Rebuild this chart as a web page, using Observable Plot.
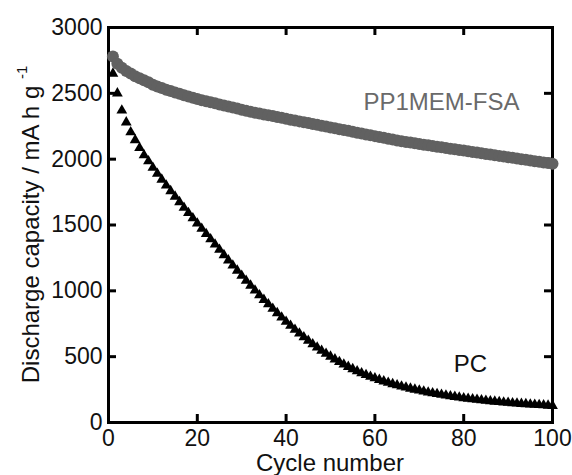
<!DOCTYPE html>
<html><head><meta charset="utf-8">
<script src="https://cdn.jsdelivr.net/npm/d3@7"></script>
<script src="https://cdn.jsdelivr.net/npm/@observablehq/plot@0.6"></script>
<style>body{margin:0;background:#fff} svg{display:block}</style>
</head><body><div id="chart"></div>
<script>
const cycles = [1,2,3,4,5,6,7,8,9,10,11,12,13,14,15,16,17,18,19,20,21,22,23,24,25,26,27,28,29,30,31,32,33,34,35,36,37,38,39,40,41,42,43,44,45,46,47,48,49,50,51,52,53,54,55,56,57,58,59,60,61,62,63,64,65,66,67,68,69,70,71,72,73,74,75,76,77,78,79,80,81,82,83,84,85,86,87,88,89,90,91,92,93,94,95,96,97,98,99,100];
const pp1memFsa = [2780,2725,2695,2670,2650,2630,2614,2600,2585,2565,2552,2540,2528,2517,2506,2496,2486,2476,2466,2457,2448,2440,2432,2424,2416,2408,2400,2392,2384,2376,2368,2360,2353,2347,2340,2334,2327,2320,2314,2307,2300,2294,2287,2281,2274,2267,2261,2254,2248,2241,2234,2228,2221,2215,2208,2201,2195,2188,2182,2175,2168,2162,2155,2149,2142,2136,2131,2126,2121,2116,2110,2105,2100,2095,2090,2085,2080,2075,2070,2065,2060,2055,2050,2045,2040,2035,2030,2025,2020,2015,2010,2005,2000,1995,1990,1985,1980,1975,1970,1966];
const pc = [2650,2500,2370,2280,2205,2145,2085,2030,1985,1935,1890,1845,1800,1758,1716,1674,1632,1592,1552,1512,1472,1432,1392,1352,1312,1272,1232,1193,1154,1115,1077,1040,1003,967,932,898,864,831,798,766,735,705,676,648,621,595,570,546,523,501,480,460,441,423,406,390,375,361,348,336,324,313,302,292,283,274,266,258,250,243,236,229,223,217,211,205,200,195,190,185,181,177,173,169,166,162,159,156,153,150,147,145,142,140,137,135,133,131,129,127];
const xTicks = [0,20,40,60,80,100];
const yTicks = [0,500,1000,1500,2000,2500,3000];
const seriesNames = ["PP1MEM-FSA","PC"];
const xLabel = "Cycle number";
const yLabel = "Discharge capacity / mA h g";
const yLabelSup = "-1";

const dataPP = cycles.map((c,i)=>({cycle:c, value:pp1memFsa[i]}));
const dataPC = cycles.map((c,i)=>({cycle:c, value:pc[i]}));

const W = 572, H = 475, mL = 108, mR = 20, mT = 27, mB = 53;
const plotW = W - mL - mR, plotH = H - mT - mB, tickLen = 8;

const chart = Plot.plot({
  width: W, height: H,
  marginLeft: mL, marginRight: mR, marginTop: mT, marginBottom: mB,
  style: {fontFamily: "'Liberation Sans', Arial, sans-serif", fontSize: "23px", color: "#111", background: "#fff"},
  x: {domain: [0,100]},
  y: {domain: [0,3000]},
  marks: [
    Plot.axisX({anchor:"bottom", ticks:xTicks, tickSize:0, tickPadding:7, label:null, fill:"#111", tickFormat:d3.format("d")}),
    Plot.axisY({anchor:"left", ticks:yTicks, tickSize:0, tickPadding:6, label:null, fill:"#111", tickFormat:d3.format("d")}),
    // inward tick marks on all four sides
    Plot.tickX(xTicks, {x:d=>d, insetTop: plotH - tickLen, stroke:"#000", strokeWidth:3}),
    Plot.tickX(xTicks, {x:d=>d, insetBottom: plotH - tickLen, stroke:"#000", strokeWidth:3}),
    Plot.tickY(yTicks, {y:d=>d, insetRight: plotW - tickLen, stroke:"#000", strokeWidth:3}),
    Plot.tickY(yTicks, {y:d=>d, insetLeft: plotW - tickLen, stroke:"#000", strokeWidth:3}),
    Plot.frame({stroke:"#000", strokeWidth:3}),
    Plot.dot(dataPC, {x:"cycle", y:"value", symbol:"triangle", r:4, fill:"#000", stroke:"none"}),
    Plot.dot(dataPP, {x:"cycle", y:"value", r:6, fill:"#616161", stroke:"none"}),
    Plot.text([seriesNames[0]], {x:[75], y:[2430], text:d=>d, fill:"#6a6a6a", fontSize:24, textAnchor:"middle"}),
    Plot.text([seriesNames[1]], {x:[81.5], y:[440], text:d=>d, fill:"#111", fontSize:24, textAnchor:"middle"})
  ]
});
document.getElementById("chart").appendChild(chart);

const svg = d3.select(chart);
const ys = chart.scale("y").range;
const xs = chart.scale("x").range;
svg.append("text")
  .attr("x", (xs[0]+xs[1])/2).attr("y", 471)
  .attr("text-anchor","middle").attr("font-size", 24).attr("fill","#111")
  .text(xLabel);
const yl = svg.append("text")
  .attr("transform", `translate(39,${(ys[0]+ys[1])/2}) rotate(-90)`)
  .attr("text-anchor","middle").attr("font-size", 24).attr("fill","#111");
yl.append("tspan").text(yLabel + " ");
yl.append("tspan").attr("font-size", 15).attr("dy", "-0.8em").text(yLabelSup);
</script>
</body></html>
